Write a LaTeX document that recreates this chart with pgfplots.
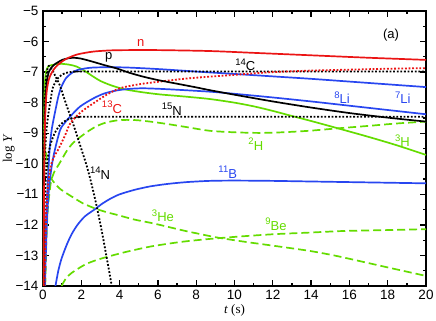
\documentclass[border=0pt]{standalone}
\usepackage{pgfplots}
\pgfplotsset{compat=1.18}
\usepackage{fontspec}
\setmainfont{Liberation Sans}
\newfontfamily\serif{Liberation Serif}
\definecolor{cred}{RGB}{235,20,20}
\definecolor{cblue}{RGB}{40,70,240}
\definecolor{cgreen}{RGB}{100,220,0}
\newcommand{\isup}[1]{\raisebox{5.5pt}{\fontsize{9.5}{9.5}\selectfont #1}}
\begin{document}
\begin{tikzpicture}
\begin{axis}[
  scale only axis, width=383pt, height=275pt,
  xmin=0, xmax=20, ymin=-14, ymax=-5,
  axis line style={line width=1.4pt},
  xtick={0,2,...,20}, minor x tick num=1,
  ytick={-14,-13,...,-5}, minor y tick num=1,
  yticklabels={−14,−13,−12,−11,−10,−9,−8,−7,−6,−5},
  tick align=inside, tick pos=both,
  major tick length=6pt, minor tick length=3pt,
  every tick/.style={line width=1.3pt, black},
  /pgf/number format/assume math mode=true,
  ticklabel style={font=\fontsize{13.5}{14}\selectfont},
  xticklabel style={yshift=-1pt},
  yticklabel style={xshift=-1pt},
  xlabel={{\serif\fontsize{13}{14}\selectfont \textit{t} (s)}},
  ylabel={{\serif\fontsize{13}{14}\selectfont log \textit{Y}}},
  xlabel style={yshift=2pt},
  ylabel style={yshift=-6pt},
  clip=true,
  every axis plot/.append style={smooth, tension=0.45},
]
% 2H green dashed
\addplot[cgreen, line width=1.7pt, dash pattern=on 8pt off 4pt] coordinates {
(0.12,-14) (0.18,-12.5) (0.25,-11.5) (0.35,-10.9) (0.43,-10.55) (0.6,-10.25) (0.8,-10.05) (0.96,-9.88) (1.24,-9.58) (1.6,-9.3) (2.28,-8.97) (2.8,-8.77) (3.3,-8.65) (4.0,-8.57) (4.8,-8.57) (5.6,-8.62) (6.5,-8.7) (7.5,-8.8) (8.7,-8.92) (10,-8.97) (11.3,-8.99) (12.5,-8.97) (13.9,-8.92) (15.4,-8.84) (17,-8.76) (18.5,-8.68) (20,-8.62)};
% 3He green dashed
\addplot[cgreen, line width=1.7pt, dash pattern=on 8pt off 4pt] coordinates {
(0.03,-14) (0.06,-10.5) (0.1,-9.5) (0.15,-9.6) (0.22,-9.95) (0.33,-10.35) (0.5,-10.55) (0.85,-10.8) (1.24,-10.97) (1.7,-11.15) (2.1,-11.3) (2.75,-11.47) (3.3,-11.58) (3.85,-11.67) (4.8,-11.83) (5.6,-11.93) (6.3,-12.03) (7.3,-12.18) (8.2,-12.3) (9.07,-12.41) (10.5,-12.55) (12,-12.68) (13.9,-12.85) (15.2,-13.0) (16.5,-13.18) (18.2,-13.42) (20,-13.67)};
% 9Be green dashed
\addplot[cgreen, line width=1.7pt, dash pattern=on 8pt off 4pt] coordinates {
(0.97,-14) (1.2,-13.75) (1.5,-13.57) (2.19,-13.3) (2.8,-13.15) (3.5,-13.02) (4.5,-12.86) (5.6,-12.71) (6.5,-12.62) (7.3,-12.55) (8.2,-12.49) (9.07,-12.44) (10.5,-12.37) (12.2,-12.3) (14,-12.25) (15.7,-12.2) (18,-12.17) (20,-12.14)};
% 3H green solid
\addplot[cgreen, line width=1.7pt] coordinates {
(0.02,-14) (0.04,-10) (0.06,-8.6) (0.09,-7.5) (0.13,-7.1) (0.2,-6.9) (0.3,-6.8) (0.45,-6.77) (0.7,-6.74) (1.0,-6.73) (1.4,-6.76) (1.76,-6.82) (2.2,-6.97) (2.63,-7.15) (3.0,-7.29) (3.5,-7.42) (4.0,-7.52) (4.4,-7.58) (5.2,-7.66) (6.1,-7.73) (7.4,-7.8) (8.7,-7.88) (10,-8.0) (11,-8.12) (12,-8.27) (12.9,-8.42) (14,-8.6) (15.4,-8.84) (17,-9.12) (18.5,-9.4) (20,-9.71)};
% 11B blue
\addplot[cblue, line width=1.7pt] coordinates {
(0.65,-14) (0.8,-13.5) (0.97,-13.1) (1.24,-12.65) (1.5,-12.3) (1.8,-12.0) (2.19,-11.72) (2.75,-11.47) (3.06,-11.32) (3.5,-11.15) (4,-11.0) (4.8,-10.85) (5.6,-10.74) (6.5,-10.66) (7.5,-10.6) (8.7,-10.56) (10,-10.55) (12,-10.56) (14,-10.58) (16,-10.6) (18,-10.62) (20,-10.64)};
% 8Li blue
\addplot[cblue, line width=1.7pt] coordinates {
(0.1,-14) (0.2,-12.0) (0.3,-10.9) (0.45,-10.1) (0.6,-9.6) (0.89,-8.9) (1.15,-8.65) (1.41,-8.46) (1.93,-8.13) (2.63,-7.86) (3.2,-7.7) (3.85,-7.6) (4.5,-7.55) (5.24,-7.53) (6.5,-7.56) (8.7,-7.64) (10,-7.71) (12,-7.83) (14,-7.96) (16,-8.1) (18,-8.24) (20,-8.38)};
% 7Li blue
\addplot[cblue, line width=1.7pt] coordinates {
(0.07,-14) (0.15,-12) (0.25,-10.6) (0.35,-9.5) (0.45,-8.9) (0.6,-8.4) (0.8,-7.8) (0.96,-7.48) (1.2,-7.2) (1.5,-7.03) (1.76,-6.94) (2.2,-6.88) (2.63,-6.85) (3.5,-6.84) (4.4,-6.85) (6,-6.9) (8.7,-7.01) (10,-7.06) (12,-7.14) (14,-7.22) (16,-7.31) (18,-7.4) (20,-7.49)};
% 14N black dotted
\addplot[black, line width=1.8pt, dash pattern=on 1.8pt off 1.8pt] coordinates {
(0.02,-14) (0.05,-10) (0.1,-8.0) (0.18,-7.1) (0.3,-6.8) (0.5,-6.95) (0.7,-7.2) (0.89,-7.45) (1.1,-7.85) (1.32,-8.25) (1.55,-8.65) (1.76,-9.05) (2.02,-9.55) (2.25,-10.0) (2.45,-10.45) (2.7,-11.1) (2.89,-11.65) (3.1,-12.3) (3.29,-12.95) (3.45,-13.5) (3.59,-14)};
% 14C black dotted
\addplot[black, line width=1.8pt, dash pattern=on 1.8pt off 1.8pt] coordinates {
(0.04,-14) (0.07,-11) (0.1,-9.8) (0.17,-9.0) (0.26,-8.46) (0.4,-7.9) (0.52,-7.5) (0.78,-7.2) (1.13,-7.04) (1.6,-6.99) (3,-6.98) (20,-6.98)};
% 15N black dotted
\addplot[black, line width=1.8pt, dash pattern=on 1.8pt off 1.8pt] coordinates {
(0.04,-14) (0.08,-11.5) (0.15,-10.5) (0.25,-9.8) (0.4,-9.35) (0.61,-9.0) (0.89,-8.73) (1.3,-8.55) (1.9,-8.47) (3,-8.46) (20,-8.46)};
% 13C red dotted
\addplot[cred, line width=1.8pt, dash pattern=on 1.8pt off 1.8pt] coordinates {
(0.08,-14) (0.15,-12) (0.25,-10.8) (0.4,-10.1) (0.55,-9.8) (0.78,-9.55) (1.13,-9.1) (1.45,-8.65) (2.0,-8.3) (2.63,-8.02) (3.3,-7.75) (4.0,-7.53) (5,-7.4) (6.1,-7.31) (7.5,-7.21) (8.7,-7.15) (10.4,-7.07) (12,-7.0) (14,-6.95) (16,-6.92) (18,-6.89) (20,-6.87)};
% p black solid
\addplot[black, line width=1.7pt] coordinates {
(0.03,-14) (0.06,-10) (0.1,-8.5) (0.15,-7.7) (0.2,-7.3) (0.3,-7.0) (0.4,-6.88) (0.6,-6.75) (0.8,-6.67) (1.0,-6.6) (1.3,-6.55) (1.6,-6.53) (2.0,-6.56) (2.6,-6.66) (3.2,-6.77) (3.85,-6.88) (4.5,-7.02) (5.24,-7.15) (6,-7.26) (7,-7.38) (8,-7.5) (8.7,-7.59) (10,-7.74) (12,-7.96) (14,-8.16) (16,-8.34) (18,-8.49) (20,-8.62)};
% n red solid
\addplot[cred, line width=1.7pt] coordinates {
(0.03,-14) (0.06,-10.5) (0.1,-8.8) (0.15,-8.0) (0.2,-7.6) (0.3,-7.25) (0.43,-7.05) (0.6,-6.88) (0.8,-6.75) (1.05,-6.63) (1.3,-6.54) (1.8,-6.42) (2.6,-6.33) (3.5,-6.29) (4.4,-6.28) (6,-6.28) (8.7,-6.31) (11,-6.37) (14,-6.45) (17,-6.53) (20,-6.6)};
% labels
\begin{scope}[every node/.style={anchor=base west, inner sep=0pt, font=\fontsize{13}{14}\selectfont}]
\node[text=cred] at (axis cs:4.9,-6.17) {n};
\node[text=black] at (axis cs:3.24,-6.6) {p};
\node[text=black] at (axis cs:10.03,-6.96) {\isup{14}C};
\node[text=cred] at (axis cs:3.07,-8.34) {\isup{13}C};
\node[text=black] at (axis cs:6.2,-8.42) {\isup{15}N};
\node[text=cblue] at (axis cs:15.2,-8.04) {\isup{8}Li};
\node[text=cblue] at (axis cs:18.38,-8.04) {\isup{7}Li};
\node[text=cgreen] at (axis cs:10.72,-9.55) {\isup{2}H};
\node[text=cgreen] at (axis cs:18.38,-9.44) {\isup{3}H};
\node[text=black] at (axis cs:17.75,-5.9) {(a)};
\node[text=black] at (axis cs:2.45,-10.51) {\isup{14}N};
\node[text=cblue] at (axis cs:9.15,-10.47) {\isup{11}B};
\node[text=cgreen] at (axis cs:5.68,-11.9) {\isup{3}He};
\node[text=cgreen] at (axis cs:11.6,-12.17) {\isup{9}Be};
\end{scope}
\end{axis}
\pgfresetboundingbox
\path[use as bounding box] ([shift={(-43pt,-35pt)}]current axis.south west) rectangle ([shift={(10pt,11pt)}]current axis.north east);
\end{tikzpicture}
\end{document}
